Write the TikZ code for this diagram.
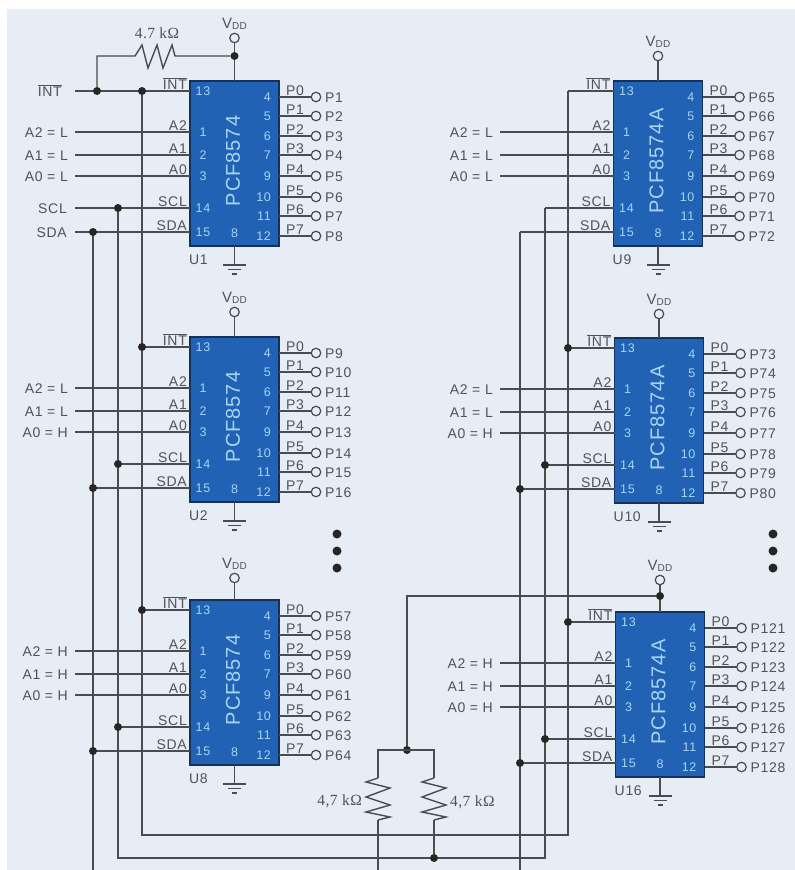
\documentclass[tikz,border=0pt]{standalone}
\usepackage{fontspec}
\setmainfont[LetterSpace=5]{Liberation Sans}
\newfontfamily\serifres[LetterSpace=3]{Liberation Serif}
\definecolor{bgc}{HTML}{E6EDF4}
\definecolor{wirec}{HTML}{4A4C50}
\definecolor{textc}{HTML}{505358}
\definecolor{chipc}{HTML}{2262B4}
\definecolor{chipb}{HTML}{14315E}
\definecolor{chipt}{HTML}{A6D6F2}
\newcommand{\lbl}{\fontsize{14}{15}\selectfont}
\newcommand{\ovl}[1]{$\overline{\hbox{#1}}$}
\def\railI{intL}\def\railC{sclL}\def\railD{sdaL}\def\astart{aL}
% #1 name #2 x #3 top #4 part #5 first P #6 A2 #7 A1 #8 A0 #9 VDD offset
\newcommand{\chipblock}[9]{
  \node[chipbox,anchor=north west] (#1) at (#2,#3) {};
  \node[chiptext,rotate=90] (#1-part) at ($(#1.north west)+(43,80)$) {\fontsize{20}{22}\selectfont #4};
  \foreach \nm/\off/\sig in {13/10/\ovl{INT},1/51/A2,2/74/A1,3/95/A0,14/127/SCL,15/151/SDA}{
    \coordinate (#1-l\nm) at ($(#1.north west)+(0,\off)$);
    \node[chiptext,anchor=center] (#1-n\nm) at ($(#1-l\nm)+(13,0)$) {\nm};
    \node[siglabel,anchor=base east] (#1-s\nm) at ($(#1-l\nm)+(-3,-2)$) {\sig};
  }
  \foreach \i/\off/\nm in {0/16/4,1/35/5,2/55/6,3/74/7,4/95/9,5/116/10,6/135/11,7/155/12}{
    \pgfmathtruncatemacro{\pn}{#5+\i}
    \coordinate (#1-r\i) at ($(#1.north east)+(0,\off)$);
    \node[chiptext,anchor=east] (#1-n\nm) at ($(#1-r\i)+(-8,0)$) {\nm};
    \node[pinout] (#1-o\i) at ($(#1-r\i)+(37,0)$) {};
    \draw[wire] (#1-r\i) -- (#1-o\i);
    \node[siglabel,anchor=base west] (#1-pl\i) at ($(#1-r\i)+(7,-1.5)$) {P\i};
    \node[siglabel,anchor=base west] (#1-pt\i) at ($(#1-r\i)+(46,5)$) {P\pn};
  }
  \node[chiptext] (#1-n8) at ($(#1.north)+(0,152)$) {8};
  \node[siglabel,anchor=base west] (#1-u) at ($(#1.south west)+(-1,18)$) {#1};
  % address lines
  \foreach \nm/\sg/\val in {1/A2/#6,2/A1/#7,3/A0/#8}{
    \coordinate (#1-as\nm) at (\astart |- #1-l\nm);
    \draw[wire] (#1-as\nm) -- (#1-l\nm);
    \node[siglabel,anchor=base east] (#1-al\nm) at ($(#1-as\nm)+(-7,5)$) {\sg{} = \val};
  }
  % bus stubs
  \coordinate (#1-ji) at (\railI |- #1-l13);
  \coordinate (#1-jc) at (\railC |- #1-l14);
  \coordinate (#1-jd) at (\railD |- #1-l15);
  \draw[wire] (#1-ji) -- (#1-l13);
  \draw[wire] (#1-jc) -- (#1-l14);
  \draw[wire] (#1-jd) -- (#1-l15);
  % supply and ground
  \node[pinout] (#1-vc) at ($(#1.north)+(0,-#9)$) {};
  \draw[wire] (#1-vc) -- (#1.north);
  \node[siglabel] (#1-vl) at ($(#1-vc)+(0,-14)$) {\fontsize{15}{16}\selectfont V\raisebox{-1.5pt}{\fontsize{10}{11}\selectfont DD}};
  \coordinate (#1-g) at ($(#1.south)+(0,19)$);
  \draw[wire] (#1.south) -- (#1-g);
  \draw[wire] ($(#1-g)+(-11.5,0)$) -- ($(#1-g)+(11.5,0)$);
  \draw[wire] ($(#1-g)+(-6.5,4.5)$) -- ($(#1-g)+(6.5,4.5)$);
  \draw[wire] ($(#1-g)+(-2.5,9)$) -- ($(#1-g)+(2.5,9)$);
}
\newcommand{\alljunctions}[1]{
  \node[junction] (#1-di) at (#1-ji) {};
  \node[junction] (#1-dc) at (#1-jc) {};
  \node[junction] (#1-dd) at (#1-jd) {};
}
\newcommand{\vres}[2]{% from #1 to #2, teeth
  \draw[wire] (#1) -- ++(-12,4) -- ++(24,6) -- ++(-24,9) -- ++(24,8) -- ++(-24,7) -- ++(24,5) -- (#2);
}
\usetikzlibrary{calc}
\tikzset{
  x=1pt,y=-1pt,
  wire/.style={draw=wirec,line width=1.4pt},
  chipbox/.style={draw=chipb,line width=1.6pt,fill=chipc,minimum width=89pt,minimum height=165pt,inner sep=0pt,outer sep=0pt},
  chiptext/.style={text=chipt,font=\fontsize{12.5}{14}\selectfont,inner sep=0pt},
  siglabel/.style={text=textc,font=\lbl,inner sep=0pt},
  pinout/.style={circle,draw=wirec,fill=bgc,line width=1.2pt,minimum size=9.5pt,inner sep=0pt,outer sep=0pt},
  junction/.style={circle,fill=black!85,minimum size=8pt,inner sep=0pt,outer sep=0pt},
  reslabel/.style={text=textc,font=\serifres\fontsize{15.5}{16}\selectfont,inner sep=0pt},
}
\begin{document}
\begin{tikzpicture}
\useasboundingbox (0,0) rectangle (795,870);
\fill[white] (0,0) rectangle (795,870);
\fill[bgc] (7,9) rectangle (795,870);
% rails: named points
\coordinate (aL) at (75,0);
\coordinate (intL) at (142,91);
\coordinate (sclL) at (118,208);
\coordinate (sdaL) at (93,232);
\coordinate (aR) at (500,0);
\coordinate (intR) at (568,91);
\coordinate (sclR) at (545,208);
\coordinate (sdaR) at (520,232);
\coordinate (busI1) at (142,835);
\coordinate (busI2) at (568,835);
\coordinate (busC1) at (118,858);
\coordinate (busC2) at (545,858);
\coordinate (sdaLb) at (93,870);
\coordinate (sdaRb) at (520,870);
% left column
\chipblock{U1}{190}{81}{PCF8574}{1}{L}{L}{L}{43}
\chipblock{U2}{190}{337}{PCF8574}{9}{L}{L}{H}{25}
\chipblock{U8}{190}{600}{PCF8574}{57}{H}{H}{H}{22}
% right column
\def\railI{intR}\def\railC{sclR}\def\railD{sdaR}\def\astart{aR}
\chipblock{U9}{613.5}{81}{PCF8574A}{65}{L}{L}{L}{25}
\chipblock{U10}{614.5}{338}{PCF8574A}{73}{L}{L}{H}{24}
\chipblock{U16}{615.5}{612}{PCF8574A}{121}{H}{H}{H}{32}
% buses
\draw[wire] (intL) -- (busI1) -- (busI2) -- (intR);
\draw[wire] (sclL) -- (busC1) -- (busC2) -- (sclR);
\draw[wire] (sdaL) -- (sdaLb);
\draw[wire] (sdaR) -- (sdaRb);
% junctions
\alljunctions{U2}\alljunctions{U8}\alljunctions{U10}\alljunctions{U16}
% top-left free inputs
\coordinate (intS) at (75,91);
\coordinate (sclS) at (75,208);
\coordinate (sdaS) at (75,232);
\draw[wire] (intS) -- (U1-ji);
\draw[wire] (sclS) -- (U1-jc);
\draw[wire] (sdaS) -- (U1-jd);
\node[siglabel,anchor=base east] (intT) at (62,96) {\ovl{INT}};
\node[siglabel,anchor=base east] (sclT) at (67,213) {SCL};
\node[siglabel,anchor=base east] (sdaT) at (67,237) {SDA};
\alljunctions{U1}
% pull-up on INT
\node[junction] (jint) at (97,91) {};
\node[junction] (jvdd) at (U1.north |- 0,56) {};
\coordinate (pucorner) at (97,56);
\coordinate (rtl) at (135,56);
\coordinate (rtr) at (175,56);
\draw[wire] (jint) -- (pucorner) -- (rtl) -- ++(7,-11) -- ++(6,23) -- ++(9,-23) -- ++(6,23) -- ++(9,-23) -- (rtr) -- (jvdd);
\node[reslabel] (rtt) at (157,33) {4.7 kΩ};
% I2C pull-ups
\node[junction] (jpu) at (407,750) {};
\node[junction] (jv16) at (U16.north |- 0,596) {};
\node[junction] (jbus) at (434,858) {};
\coordinate (pl) at (378,750);
\coordinate (pr) at (434,750);
\coordinate (plb) at (378,870);
\coordinate (rl1) at (378,778);
\coordinate (rl2) at (378,820);
\coordinate (rr1) at (434,778);
\coordinate (rr2) at (434,820);
\coordinate (pucr) at (407,596);
\draw[wire] (jpu) -- (pucr) -- (jv16);
\draw[wire] (rl1) -- (pl) -- (pr) -- (rr1);
\vres{rl1}{rl2}
\vres{rr1}{rr2}
\draw[wire] (rl2) -- (plb);
\draw[wire] (rr2) -- (jbus);
\node[reslabel,anchor=east] (rlt) at (362,801) {4,7 kΩ};
\node[reslabel,anchor=west] (rrt) at (450,802) {4,7 kΩ};
% ellipsis dots
\foreach \n/\py in {1/534,2/551,3/568}{
  \node[junction,minimum size=9pt] (el\n) at (337,\py) {};
  \node[junction,minimum size=9pt] (er\n) at (773,\py) {};
}
\end{tikzpicture}
\end{document}
